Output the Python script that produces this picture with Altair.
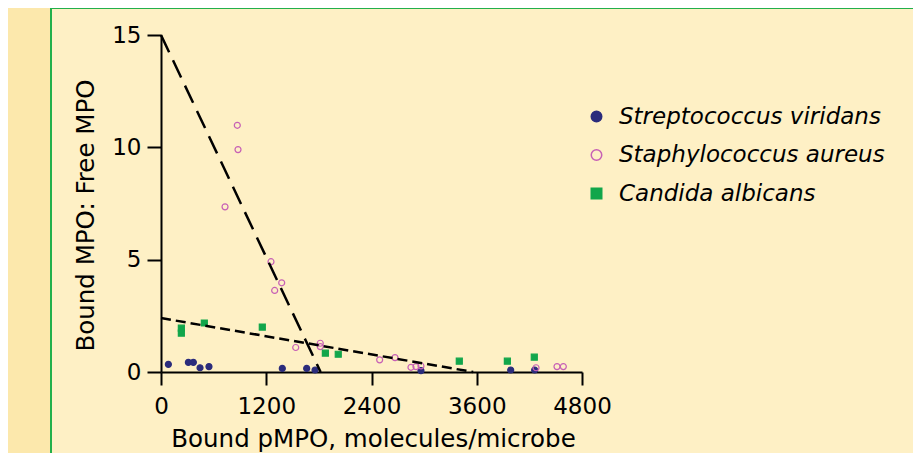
import altair as alt
import pandas as pd

# ---- data ----
species = ["Streptococcus viridans", "Staphylococcus aureus", "Candida albicans"]

sv_x = [84, 312, 369, 445, 547, 1383, 1661, 1756, 2964, 3987, 4260]
sv_y = [0.34, 0.43, 0.43, 0.19, 0.24, 0.16, 0.16, 0.09, 0.06, 0.09, 0.09]

sa_x = [730, 870, 878, 1254, 1296, 1376, 1536, 1816, 1816, 2493, 2668, 2850, 2907, 2964, 4276, 4515, 4587]
sa_y = [7.35, 10.98, 9.9, 4.91, 3.63, 3.97, 1.09, 1.28, 1.13, 0.54, 0.64, 0.21, 0.24, 0.27, 0.19, 0.24, 0.24]

ca_x = [232, 232, 494, 1155, 1874, 2021, 3401, 3949, 4256]
ca_y = [1.95, 1.73, 2.18, 2.0, 0.84, 0.79, 0.48, 0.48, 0.66]

fit1_x = [0, 1820]
fit1_y = [15.0, 0]
fit2_x = [0, 3560]
fit2_y = [2.4, 0]

x_ticks = [0, 1200, 2400, 3600, 4800]
y_ticks = [0, 5, 10, 15]

# ---- styling ----
NAVY = "#2B2C7C"
PINK = "#C760B5"
GREEN = "#12A64B"
BG = "#FEF0C5"
OUTER = "#FCE8AC"
BORDER = "#22B04B"
FONT = "DejaVu Sans"

rows = []
for name, xs, ys in [(species[0], sv_x, sv_y), (species[1], sa_x, sa_y), (species[2], ca_x, ca_y)]:
    for xv, yv in zip(xs, ys):
        rows.append({"species": name, "x": xv, "y": yv})
df = pd.DataFrame(rows)

fit1 = pd.DataFrame({"x": fit1_x, "y": fit1_y})
fit2 = pd.DataFrame({"x": fit2_x, "y": fit2_y})

xscale = alt.Scale(domain=[0, 4800], nice=False, zero=False)
yscale = alt.Scale(domain=[0, 15], nice=False, zero=False)

xaxis = alt.Axis(values=x_ticks, format="d", title="Bound pMPO, molecules/microbe", tickSize=13,
                 labelPadding=10, titleX=212, titleY=74, titleBaseline="alphabetic",
                 labelFlush=False, labelOverlap=False)
yaxis = alt.Axis(values=y_ticks, format="d", title="Bound MPO: Free MPO", tickSize=14,
                 labelPadding=6, titleX=-68, titleY=180, titleBaseline="alphabetic",
                 labelFlush=False, labelOverlap=False)

X = alt.X("x:Q", scale=xscale, axis=xaxis)
Y = alt.Y("y:Q", scale=yscale, axis=yaxis)

one = alt.Data(values=[{}])
outer = alt.Chart(one).mark_rect(color=OUTER).encode(
    x=alt.value(-153), x2=alt.value(-111), y=alt.value(-27), y2=alt.value(420))
vline = alt.Chart(one).mark_rect(color=BORDER).encode(
    x=alt.value(-111), x2=alt.value(-109), y=alt.value(-27), y2=alt.value(420))
hline = alt.Chart(one).mark_rect(color=BORDER).encode(
    x=alt.value(-111), x2=alt.value(770), y=alt.value(-27), y2=alt.value(-26))

leg = alt.Legend(title=None, orient="none", legendX=424, legendY=70,
                 labelFont=FONT, labelFontSize=23, labelFontStyle="italic", labelColor="black",
                 symbolSize=110, symbolStrokeWidth=1.5, rowPadding=14.5, labelOffset=11, padding=0,
                 labelLimit=400)

points = alt.Chart(df).mark_point(strokeWidth=1.2, opacity=1, size=36).encode(
    x=X, y=Y,
    shape=alt.Shape("species:N", scale=alt.Scale(domain=species, range=["circle", "circle", "square"]), legend=leg),
    fill=alt.Fill("species:N", scale=alt.Scale(domain=species, range=[NAVY, "transparent", GREEN]), legend=leg),
    stroke=alt.Stroke("species:N", scale=alt.Scale(domain=species, range=[NAVY, PINK, GREEN]), legend=leg),
)

line1 = alt.Chart(fit1).mark_line(color="black", strokeWidth=2.5, strokeDash=[19, 9]).encode(x=X, y=Y)
line2 = alt.Chart(fit2).mark_line(color="black", strokeWidth=2.5, strokeDash=[10, 5]).encode(x=X, y=Y)

chart = alt.layer(outer, vline, hline, points, line1, line2).properties(
    width=421, height=337,
    autosize=alt.AutoSizeParams(type="none"),
    padding={"left": 153, "top": 27, "right": 331, "bottom": 81},
    background=BG,
).configure_view(stroke=None).configure_axis(
    grid=False, domainColor="black", domainWidth=2, tickColor="black", tickWidth=2,
    labelFont=FONT, labelFontSize=23, labelColor="black",
    titleFont=FONT, titleFontSize=24.5, titleFontWeight="normal", titleColor="black",
)

chart.save("out.html", embed_options={"renderer": "svg", "actions": False})
